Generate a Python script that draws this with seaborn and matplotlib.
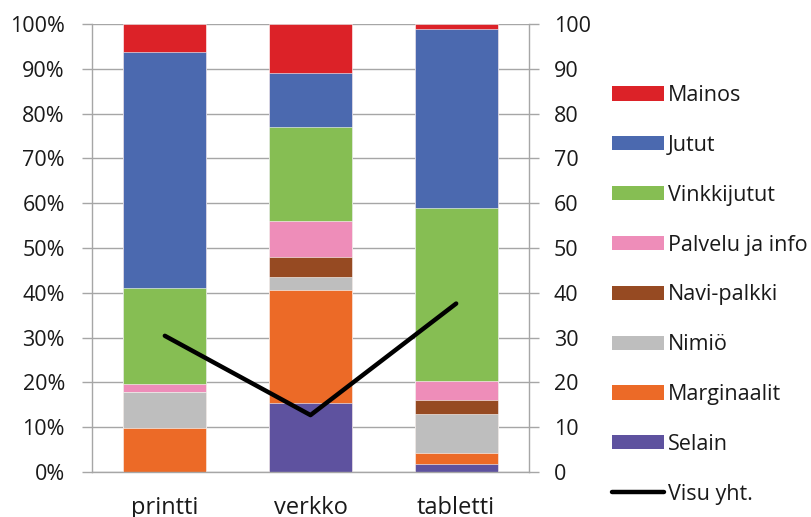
import numpy as np
import pandas as pd
import matplotlib
matplotlib.use("Agg")
import matplotlib.pyplot as plt
from matplotlib.patches import Patch
from matplotlib.lines import Line2D
import seaborn as sns

# Media categories on the x axis
categories = ["printti", "verkko", "tabletti"]

# Share of each page element (%), stacked from bottom to top
selain      = [0.0, 15.5, 1.7]
marginaalit = [9.8, 25.1, 2.6]
nimio       = [8.1, 2.9, 8.6]
navi        = [0.0, 4.6, 3.2]
palvelu     = [1.7, 8.0, 4.3]
vinkki      = [21.5, 20.9, 38.6]
jutut       = [52.7, 12.0, 39.8]
mainos      = [6.2, 11.0, 1.2]

# Overall visual score, drawn against the right-hand axis
visu_yht = [30.4, 12.7, 37.6]

series_names = ["Selain", "Marginaalit", "Nimiö", "Navi-palkki",
                "Palvelu ja info", "Vinkkijutut", "Jutut", "Mainos"]
series_values = [selain, marginaalit, nimio, navi, palvelu, vinkki, jutut, mainos]
series_colors = ["#5E529F", "#EC6A27", "#BEBEBE", "#964A22",
                 "#EE8DB9", "#86BE53", "#4B69AF", "#DC2228"]

sns.set_theme(style="white")
plt.rcParams["font.family"] = ["Open Sans", "DejaVu Sans"]
text_color = "#1a1a1a"
grid_color = "#A6A6A6"
fs = 15.5
fs_x = 17
fs_leg = 15.5

fig = plt.figure(figsize=(8.11, 5.17), dpi=100)
ax = fig.add_axes([92 / 811, 1 - 472 / 517, (529 - 92) / 811, (472 - 24) / 517])

# Stacked bars: draw cumulative totals from the top layer down
cum = np.cumsum(np.array(series_values), axis=0)
for i in range(len(series_names) - 1, -1, -1):
    df = pd.DataFrame({"cat": categories, "val": cum[i]})
    sns.barplot(data=df, x="cat", y="val", color=series_colors[i],
                width=0.57, saturation=1, ax=ax, zorder=2,
                edgecolor="white", linewidth=0.4)

ax.set_xlim(-0.5, 2.5)
ax.set_ylim(0, 100)
ax.set_yticks(np.arange(0, 101, 10))
ax.set_yticklabels([f"{v}%" for v in range(0, 101, 10)])
ax.set_xlabel("")
ax.set_ylabel("")
ax.yaxis.grid(True, color=grid_color, linewidth=1.0, zorder=0)
ax.set_axisbelow(True)
for side in ["top", "right"]:
    ax.spines[side].set_visible(False)
for side in ["left", "bottom"]:
    ax.spines[side].set_color(grid_color)
    ax.spines[side].set_linewidth(1.0)

# Category ticks sit between the bars
ax.set_xticks([0, 1, 2])
ax.set_xticklabels(categories)
ax.set_xticks([-0.5, 0.5, 1.5, 2.5], minor=True)
ax.tick_params(axis="x", which="major", length=0, labelsize=fs_x,
               labelcolor=text_color, pad=17)
ax.tick_params(axis="x", which="minor", length=7, color=grid_color,
               direction="out", width=1.0)
ax.tick_params(axis="y", length=7, color=grid_color, width=1.0,
               labelsize=fs, labelcolor=text_color, pad=12.5, left=True,
               direction="out")

# Secondary axis for the line
ax2 = ax.twinx()
sns.lineplot(x=np.arange(3), y=visu_yht, color="black", linewidth=3.2,
             ax=ax2, zorder=5, solid_capstyle="round")
ax2.set_ylim(0, 100)
ax2.set_yticks(np.arange(0, 101, 10))
ax2.set_xlim(-0.5, 2.5)
for side in ["top", "left", "bottom"]:
    ax2.spines[side].set_visible(False)
ax2.spines["right"].set_color(grid_color)
ax2.spines["right"].set_linewidth(1.0)
ax2.tick_params(axis="y", length=7, color=grid_color, width=1.0,
                labelsize=fs, labelcolor=text_color, pad=11, right=True,
                direction="out")
ax2.grid(False)

# Legend, top series first
handles = [Patch(facecolor=c, edgecolor="none")
           for c in series_colors[::-1]]
labels = series_names[::-1]
handles.append(Line2D([0], [0], color="black", linewidth=3.2))
labels.append("Visu yht.")
fig.legend(handles, labels, loc="upper left",
           bbox_to_anchor=(612 / 811, 1 - 85 / 517),
           frameon=False, fontsize=fs_leg, labelcolor=text_color,
           handlelength=2.4, handleheight=0.64, handletextpad=0.2,
           labelspacing=1.34, borderaxespad=0, borderpad=0)

fig.savefig("out.png", dpi=100)
